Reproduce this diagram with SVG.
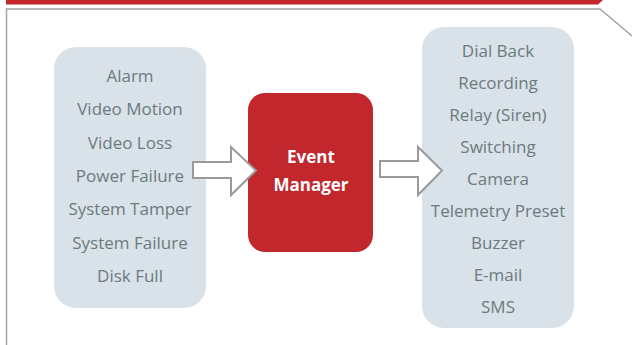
<svg xmlns="http://www.w3.org/2000/svg" width="632" height="345" viewBox="0 0 632 345">
<style>
.box{fill:#d9e2e8}
.t{font-family:"Open Sans","Liberation Sans",sans-serif;font-size:17px;fill:#6b7a80;text-anchor:middle}
.w{font-family:"Open Sans","Liberation Sans",sans-serif;font-size:17px;font-weight:bold;fill:#ffffff;text-anchor:middle}
.arr{fill:#ffffff;stroke:#9a9a9a;stroke-width:2;stroke-linejoin:miter}
</style>
<rect width="632" height="345" fill="#ffffff"/>
<g id="frame">
<polygon points="6,0 603,0 598,4.5 6,4.5" fill="#c1272d"/>
<polyline points="6.5,345 6.5,9 600,9 632,36" fill="none" stroke="#a3a3a3" stroke-width="1.5"/>
</g>
<g id="inputs">
<rect class="box" x="54" y="47" width="152" height="261" rx="22"/>
<text class="t" x="130" y="82">Alarm</text>
<text class="t" x="130" y="115">Video Motion</text>
<text class="t" x="130" y="149">Video Loss</text>
<text class="t" x="130" y="182">Power Failure</text>
<text class="t" x="130" y="215">System Tamper</text>
<text class="t" x="130" y="249">System Failure</text>
<text class="t" x="130" y="282">Disk Full</text>
</g>
<g id="event-manager">
<rect x="248" y="93" width="125" height="159" rx="17" fill="#c1272d"/>
<text class="w" x="311" y="163">Event</text>
<text class="w" x="311" y="191">Manager</text>
</g>
<g id="outputs">
<rect class="box" x="422" y="27" width="152" height="301" rx="22"/>
<text class="t" x="498" y="57">Dial Back</text>
<text class="t" x="498" y="89">Recording</text>
<text class="t" x="498" y="121">Relay (Siren)</text>
<text class="t" x="498" y="153">Switching</text>
<text class="t" x="498" y="185">Camera</text>
<text class="t" x="498" y="217">Telemetry Preset</text>
<text class="t" x="498" y="249">Buzzer</text>
<text class="t" x="498" y="281">E-mail</text>
<text class="t" x="498" y="313">SMS</text>
</g>
<g id="connectors">
<polygon class="arr" points="193,162 231,162 231,147 256,170.5 231,195 231,178 193,178"/>
<polygon class="arr" points="380,161 418,161 418,147 442,170.5 418,195 418,177 380,177"/>
</g>
</svg>
